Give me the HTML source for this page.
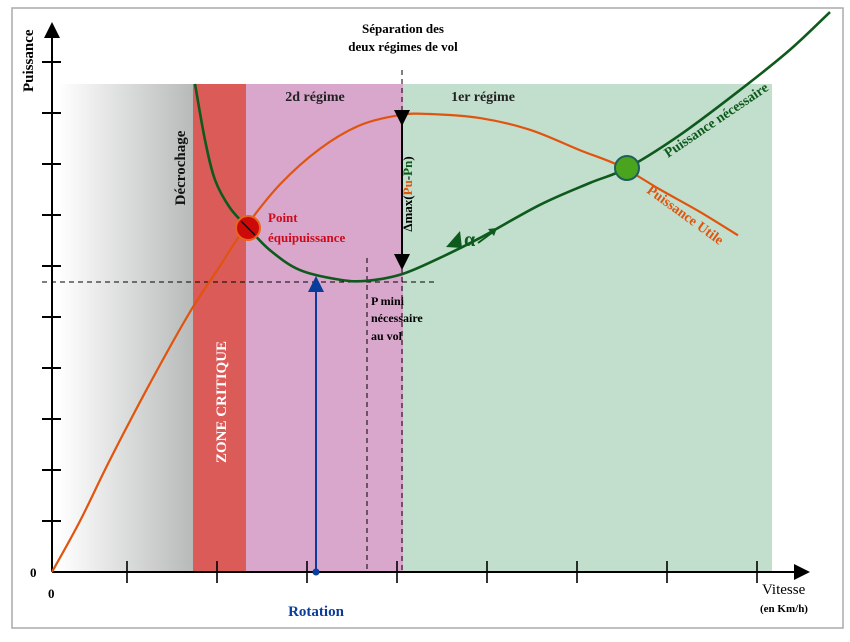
<!DOCTYPE html>
<html><head><meta charset="utf-8"><style>
body{margin:0;background:#fff;}
svg text{font-family:"Liberation Serif",serif;}
</style></head><body>
<svg width="850" height="637" viewBox="0 0 850 637" xmlns="http://www.w3.org/2000/svg">
<defs>
<linearGradient id="gg" x1="0" x2="1" y1="0" y2="0"><stop offset="0" stop-color="#ffffff"/><stop offset="1" stop-color="#b8baba"/></linearGradient>
<marker id="ah" markerWidth="8" markerHeight="8" refX="6" refY="4" orient="auto"><path d="M0,0 L8,4 L0,8 z" fill="#000"/></marker>
<marker id="ahb" markerWidth="8" markerHeight="8" refX="6" refY="4" orient="auto"><path d="M0,0 L8,4 L0,8 z" fill="#0a3c9c"/></marker>
</defs>
<rect x="12" y="8" width="831" height="620" fill="#fff" stroke="#aaa" stroke-width="1.5"/>
<rect x="58" y="84" width="135" height="487" fill="url(#gg)"/>
<rect x="193" y="84" width="53" height="487" fill="#db5b59"/>
<rect x="246" y="84" width="157" height="487" fill="#d8a7cb"/>
<rect x="403" y="84" width="369" height="487" fill="#c2decc"/>
<g id="axes"></g>
<line x1="42" y1="282" x2="438" y2="282" stroke="#000" stroke-dasharray="5,4"/>
<line x1="402" y1="70" x2="402" y2="570" stroke="#000" stroke-dasharray="5,4"/>
<line x1="367" y1="258" x2="367" y2="570" stroke="#000" stroke-dasharray="5,4"/>
<line x1="316" y1="572" x2="316" y2="280" stroke="#0a3c9c" stroke-width="2" marker-end="url(#ahb)"/>
<circle cx="316" cy="572" r="3.5" fill="#0a3c9c"/>
<path id="pu" fill="none" stroke="#e0540e" stroke-width="2.2"/>
<path id="pn" fill="none" stroke="#0e5a1c" stroke-width="2.6"/>
<line x1="402" y1="122" x2="402" y2="266" stroke="#000" stroke-width="2" marker-end="url(#ah)" marker-start="url(#ah)"/>
<circle cx="248" cy="228" r="12" fill="#cc0a0a" stroke="#e8661e" stroke-width="2"/>
<line x1="241" y1="221" x2="255" y2="235" stroke="#111" stroke-width="1.5"/>
<circle cx="627" cy="168" r="12" fill="#4aa41e" stroke="#1d5f5c" stroke-width="2"/>
<text x="13" y="0" transform="translate(33,105) rotate(-90)" font-size="15" font-weight="bold">Puissance</text>
<text x="403" y="33" font-size="13" font-weight="bold" text-anchor="middle">Séparation des</text>
<text x="403" y="51" font-size="13" font-weight="bold" text-anchor="middle">deux régimes de vol</text>
<text x="315" y="101" font-size="14" font-weight="bold" text-anchor="middle" fill="#222">2d régime</text>
<text x="483" y="101" font-size="14" font-weight="bold" text-anchor="middle" fill="#222">1er régime</text>
<text transform="translate(185,168) rotate(-90)" font-size="15" font-weight="bold" text-anchor="middle" fill="#111">Décrochage</text>
<text x="268" y="222" font-size="13" font-weight="bold" fill="#cc0a1a">Point</text>
<text x="268" y="242" font-size="13" font-weight="bold" fill="#cc0a1a">équipuissance</text>
<text transform="translate(412,194) rotate(-90)" font-size="13" font-weight="bold" text-anchor="middle">Δmax(<tspan fill="#e0540e">Pu</tspan>-<tspan fill="#0e5a1c">Pn</tspan>)</text>
<text x="371" y="305" font-size="12" font-weight="bold">P mini</text>
<text x="371" y="322" font-size="12" font-weight="bold">nécessaire</text>
<text x="371" y="340" font-size="12" font-weight="bold">au vol</text>
<text transform="translate(226,402) rotate(-90)" font-size="15" font-weight="bold" fill="#fff" text-anchor="middle">ZONE CRITIQUE</text>
<text transform="translate(668,158) rotate(-34)" font-size="14" font-weight="bold" fill="#0e5a1c">Puissance nécessaire</text>
<text transform="translate(646,192) rotate(36)" font-size="14" font-weight="bold" fill="#e0540e">Puissance Utile</text>
<path d="M446,247 L460,231 L462,248 z" fill="#0e5a1c"/>
<text x="464" y="246" font-size="20" font-weight="bold" fill="#0e5a1c">α</text>
<line x1="478" y1="243" x2="493" y2="232" stroke="#0e5a1c" stroke-width="2"/>
<path d="M488,229 L497,228 L494,236 z" fill="#0e5a1c"/>
<text x="30" y="577" font-size="13" font-weight="bold">0</text>
<text x="48" y="598" font-size="13" font-weight="bold">0</text>
<text x="762" y="594" font-size="15">Vitesse</text>
<text x="760" y="612" font-size="11" font-weight="bold">(en Km/h)</text>
<text x="316" y="616" font-size="15" font-weight="bold" fill="#0a3c9c" text-anchor="middle">Rotation</text>
</svg>
<script>
const puSpeed=[0,28,58,98,138,168,193,228,268,308,348,378,428,478,528,568,608,648,686];
const puPower=[0,10,22,37,51,60,67.5,76,83,87.6,89.6,89.8,89,86.7,82.7,79.6,75,70.6,66];
const pnSpeed=[143,153,163,178,196,218,248,288,315,350,388,428,488,538,575,628,688,738,778];
const pnPower=[95.7,84.7,76.9,71.4,67.5,63.1,59.2,57.3,57.1,58.4,61.6,65.5,72,76.3,79.2,85.7,94.5,102.4,109.8];
const yTicks=[10,20,30,40,50,60,70,80,90,100];
const xTicks=[75,165,255,345,435,525,615,705];
function sx(v){return 52+v;}
function sy(v){return 572-v*5.1;}
function smooth(xs,ys){
  const p=xs.map((x,i)=>[sx(x),sy(ys[i])]);
  let d='M'+p[0][0]+','+p[0][1];
  for(let i=0;i<p.length-1;i++){
    const p0=p[Math.max(0,i-1)],p1=p[i],p2=p[i+1],p3=p[Math.min(p.length-1,i+2)];
    const c1=[p1[0]+(p2[0]-p0[0])/6,p1[1]+(p2[1]-p0[1])/6];
    const c2=[p2[0]-(p3[0]-p1[0])/6,p2[1]-(p3[1]-p1[1])/6];
    d+=' C'+c1[0]+','+c1[1]+' '+c2[0]+','+c2[1]+' '+p2[0]+','+p2[1];
  }
  return d;
}
document.getElementById('pu').setAttribute('d',smooth(puSpeed,puPower));
document.getElementById('pn').setAttribute('d',smooth(pnSpeed,pnPower));
const NS='http://www.w3.org/2000/svg';
const ax=document.getElementById('axes');
function ln(x1,y1,x2,y2,w){const l=document.createElementNS(NS,'line');l.setAttribute('x1',x1);l.setAttribute('y1',y1);l.setAttribute('x2',x2);l.setAttribute('y2',y2);l.setAttribute('stroke','#000');l.setAttribute('stroke-width',w);ax.appendChild(l);return l;}
const ya=ln(52,572,52,26,2);
ya.setAttribute('marker-end','url(#ah)');


const xa=ln(52,572,806,572,2);
xa.setAttribute('marker-end','url(#ah)');


yTicks.forEach(v=>{const t=ln(42,sy(v),61,sy(v),2);

});
xTicks.forEach(v=>{const t=ln(sx(v),561,sx(v),583,1.6);

});
</script>
</body></html>
